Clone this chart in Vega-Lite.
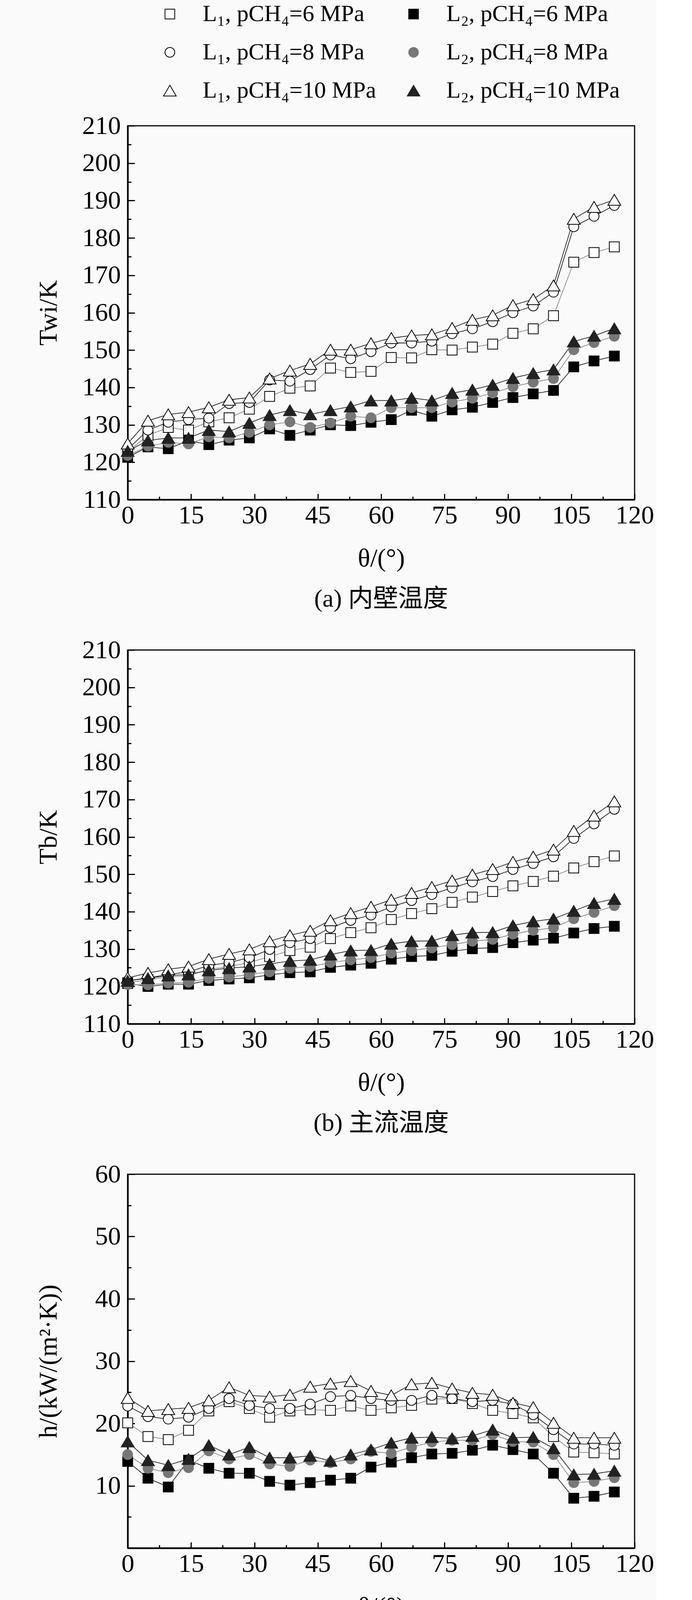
{
  "$schema": "https://vega.github.io/schema/vega-lite/v6.json",
  "background": "#fafafa",
  "padding": {"left": 89, "top": 6, "right": 5, "bottom": 5},
  "spacing": 385,
  "bounds": "flush",
  "config": {
    "font": "Liberation Serif",
    "view": {"stroke": "black", "strokeWidth": 3},
    "axis": {"domainColor": "black", "domainWidth": 4, "tickColor": "black", "tickWidth": 3, "labelFont": "Liberation Serif", "labelFontSize": 66, "labelColor": "black", "titleFont": "Liberation Serif", "titleFontSize": 66, "titleFontWeight": "normal", "titleColor": "black", "grid": false, "labelFlush": false, "labelOverlap": false},
    "axisX": {"tickSize": -15, "labelPadding": 23, "titleY": 150, "titleBaseline": "middle"},
    "axisY": {"tickSize": -18, "labelPadding": 36, "titleX": -203, "titleBaseline": "middle"},
    "legend": {"orient": "none", "legendX": 78, "legendY": -316, "columns": 2, "columnPadding": 65, "rowPadding": 38, "symbolSize": 620, "symbolStrokeWidth": 2, "symbolStrokeColor": "black", "symbolOpacity": 1, "labelFont": "Liberation Serif", "labelFontSize": 60, "labelLimit": 900, "labelOffset": 54, "labelColor": "black"},
    "title": {"font": "Liberation Serif, Noto Sans CJK SC", "fontSize": 64, "fontWeight": "normal", "color": "black", "orient": "bottom", "frame": "group", "offset": 40, "baseline": "middle", "anchor": "middle"}
  },
  "datasets": {
    "a": [
      {"t":0,"s":"L1_6","v":122.8},{"t":4.8,"s":"L1_6","v":127.2},{"t":9.6,"s":"L1_6","v":129.3},{"t":14.4,"s":"L1_6","v":128.6},{"t":19.2,"s":"L1_6","v":130.8},{"t":24,"s":"L1_6","v":131.9},{"t":28.8,"s":"L1_6","v":134.2},{"t":33.6,"s":"L1_6","v":137.6},{"t":38.4,"s":"L1_6","v":139.8},{"t":43.2,"s":"L1_6","v":140.4},{"t":48,"s":"L1_6","v":145.2},{"t":52.8,"s":"L1_6","v":144.0},{"t":57.6,"s":"L1_6","v":144.3},{"t":62.4,"s":"L1_6","v":148.0},{"t":67.2,"s":"L1_6","v":147.9},{"t":72,"s":"L1_6","v":150.1},{"t":76.8,"s":"L1_6","v":150.0},{"t":81.6,"s":"L1_6","v":150.8},{"t":86.4,"s":"L1_6","v":151.6},{"t":91.2,"s":"L1_6","v":154.5},{"t":96,"s":"L1_6","v":155.7},{"t":100.8,"s":"L1_6","v":159.2},{"t":105.6,"s":"L1_6","v":173.5},{"t":110.4,"s":"L1_6","v":176.1},{"t":115.2,"s":"L1_6","v":177.6},
      {"t":0,"s":"L1_8","v":123.5},{"t":4.8,"s":"L1_8","v":128.6},{"t":9.6,"s":"L1_8","v":130.7},{"t":14.4,"s":"L1_8","v":131.4},{"t":19.2,"s":"L1_8","v":131.8},{"t":24,"s":"L1_8","v":135.7},{"t":28.8,"s":"L1_8","v":136.0},{"t":33.6,"s":"L1_8","v":142.0},{"t":38.4,"s":"L1_8","v":141.7},{"t":43.2,"s":"L1_8","v":144.8},{"t":48,"s":"L1_8","v":148.7},{"t":52.8,"s":"L1_8","v":147.7},{"t":57.6,"s":"L1_8","v":149.6},{"t":62.4,"s":"L1_8","v":151.9},{"t":67.2,"s":"L1_8","v":151.9},{"t":72,"s":"L1_8","v":152.4},{"t":76.8,"s":"L1_8","v":154.4},{"t":81.6,"s":"L1_8","v":155.7},{"t":86.4,"s":"L1_8","v":157.6},{"t":91.2,"s":"L1_8","v":160.0},{"t":96,"s":"L1_8","v":161.8},{"t":100.8,"s":"L1_8","v":165.5},{"t":105.6,"s":"L1_8","v":183.0},{"t":110.4,"s":"L1_8","v":185.8},{"t":115.2,"s":"L1_8","v":188.7},
      {"t":0,"s":"L1_10","v":125.0},{"t":4.8,"s":"L1_10","v":131.1},{"t":9.6,"s":"L1_10","v":132.8},{"t":14.4,"s":"L1_10","v":133.4},{"t":19.2,"s":"L1_10","v":134.7},{"t":24,"s":"L1_10","v":136.7},{"t":28.8,"s":"L1_10","v":137.3},{"t":33.6,"s":"L1_10","v":142.4},{"t":38.4,"s":"L1_10","v":144.5},{"t":43.2,"s":"L1_10","v":146.3},{"t":48,"s":"L1_10","v":150.1},{"t":52.8,"s":"L1_10","v":150.1},{"t":57.6,"s":"L1_10","v":151.8},{"t":62.4,"s":"L1_10","v":153.2},{"t":67.2,"s":"L1_10","v":153.9},{"t":72,"s":"L1_10","v":154.2},{"t":76.8,"s":"L1_10","v":155.9},{"t":81.6,"s":"L1_10","v":158.1},{"t":86.4,"s":"L1_10","v":159.3},{"t":91.2,"s":"L1_10","v":162.0},{"t":96,"s":"L1_10","v":163.6},{"t":100.8,"s":"L1_10","v":167.3},{"t":105.6,"s":"L1_10","v":185.1},{"t":110.4,"s":"L1_10","v":188.3},{"t":115.2,"s":"L1_10","v":190.2},
      {"t":0,"s":"L2_6","v":121.3},{"t":4.8,"s":"L2_6","v":124.1},{"t":9.6,"s":"L2_6","v":123.6},{"t":14.4,"s":"L2_6","v":125.8},{"t":19.2,"s":"L2_6","v":124.7},{"t":24,"s":"L2_6","v":125.9},{"t":28.8,"s":"L2_6","v":126.5},{"t":33.6,"s":"L2_6","v":128.9},{"t":38.4,"s":"L2_6","v":127.2},{"t":43.2,"s":"L2_6","v":128.6},{"t":48,"s":"L2_6","v":130.0},{"t":52.8,"s":"L2_6","v":129.8},{"t":57.6,"s":"L2_6","v":130.7},{"t":62.4,"s":"L2_6","v":131.4},{"t":67.2,"s":"L2_6","v":133.9},{"t":72,"s":"L2_6","v":132.3},{"t":76.8,"s":"L2_6","v":134.0},{"t":81.6,"s":"L2_6","v":134.7},{"t":86.4,"s":"L2_6","v":136.0},{"t":91.2,"s":"L2_6","v":137.3},{"t":96,"s":"L2_6","v":138.3},{"t":100.8,"s":"L2_6","v":139.2},{"t":105.6,"s":"L2_6","v":145.5},{"t":110.4,"s":"L2_6","v":147.1},{"t":115.2,"s":"L2_6","v":148.4},
      {"t":0,"s":"L2_8","v":121.8},{"t":4.8,"s":"L2_8","v":124.3},{"t":9.6,"s":"L2_8","v":125.3},{"t":14.4,"s":"L2_8","v":124.9},{"t":19.2,"s":"L2_8","v":126.8},{"t":24,"s":"L2_8","v":126.5},{"t":28.8,"s":"L2_8","v":128.0},{"t":33.6,"s":"L2_8","v":130.0},{"t":38.4,"s":"L2_8","v":130.8},{"t":43.2,"s":"L2_8","v":129.3},{"t":48,"s":"L2_8","v":130.5},{"t":52.8,"s":"L2_8","v":132.3},{"t":57.6,"s":"L2_8","v":131.9},{"t":62.4,"s":"L2_8","v":134.6},{"t":67.2,"s":"L2_8","v":134.6},{"t":72,"s":"L2_8","v":134.6},{"t":76.8,"s":"L2_8","v":136.1},{"t":81.6,"s":"L2_8","v":137.1},{"t":86.4,"s":"L2_8","v":138.5},{"t":91.2,"s":"L2_8","v":140.2},{"t":96,"s":"L2_8","v":141.4},{"t":100.8,"s":"L2_8","v":142.4},{"t":105.6,"s":"L2_8","v":150.1},{"t":110.4,"s":"L2_8","v":152.0},{"t":115.2,"s":"L2_8","v":153.7},
      {"t":0,"s":"L2_10","v":123.0},{"t":4.8,"s":"L2_10","v":125.8},{"t":9.6,"s":"L2_10","v":126.5},{"t":14.4,"s":"L2_10","v":126.5},{"t":19.2,"s":"L2_10","v":128.6},{"t":24,"s":"L2_10","v":128.2},{"t":28.8,"s":"L2_10","v":130.5},{"t":33.6,"s":"L2_10","v":132.6},{"t":38.4,"s":"L2_10","v":133.9},{"t":43.2,"s":"L2_10","v":132.8},{"t":48,"s":"L2_10","v":133.9},{"t":52.8,"s":"L2_10","v":134.9},{"t":57.6,"s":"L2_10","v":136.5},{"t":62.4,"s":"L2_10","v":136.5},{"t":67.2,"s":"L2_10","v":137.2},{"t":72,"s":"L2_10","v":136.5},{"t":76.8,"s":"L2_10","v":138.5},{"t":81.6,"s":"L2_10","v":139.4},{"t":86.4,"s":"L2_10","v":140.7},{"t":91.2,"s":"L2_10","v":142.5},{"t":96,"s":"L2_10","v":143.8},{"t":100.8,"s":"L2_10","v":144.8},{"t":105.6,"s":"L2_10","v":152.3},{"t":110.4,"s":"L2_10","v":153.8},{"t":115.2,"s":"L2_10","v":155.8}
    ],
    "b": [
      {"t":0,"s":"L1_6","v":121.0},{"t":4.8,"s":"L1_6","v":121.8},{"t":9.6,"s":"L1_6","v":122.5},{"t":14.4,"s":"L1_6","v":122.9},{"t":19.2,"s":"L1_6","v":124.6},{"t":24,"s":"L1_6","v":125.3},{"t":28.8,"s":"L1_6","v":126.4},{"t":33.6,"s":"L1_6","v":128.0},{"t":38.4,"s":"L1_6","v":129.6},{"t":43.2,"s":"L1_6","v":130.5},{"t":48,"s":"L1_6","v":132.8},{"t":52.8,"s":"L1_6","v":134.4},{"t":57.6,"s":"L1_6","v":135.7},{"t":62.4,"s":"L1_6","v":137.9},{"t":67.2,"s":"L1_6","v":139.5},{"t":72,"s":"L1_6","v":140.8},{"t":76.8,"s":"L1_6","v":142.5},{"t":81.6,"s":"L1_6","v":143.9},{"t":86.4,"s":"L1_6","v":145.4},{"t":91.2,"s":"L1_6","v":146.9},{"t":96,"s":"L1_6","v":148.1},{"t":100.8,"s":"L1_6","v":149.5},{"t":105.6,"s":"L1_6","v":151.7},{"t":110.4,"s":"L1_6","v":153.4},{"t":115.2,"s":"L1_6","v":154.9},
      {"t":0,"s":"L1_8","v":121.5},{"t":4.8,"s":"L1_8","v":122.3},{"t":9.6,"s":"L1_8","v":123.2},{"t":14.4,"s":"L1_8","v":123.9},{"t":19.2,"s":"L1_8","v":125.6},{"t":24,"s":"L1_8","v":126.4},{"t":28.8,"s":"L1_8","v":127.7},{"t":33.6,"s":"L1_8","v":129.9},{"t":38.4,"s":"L1_8","v":131.7},{"t":43.2,"s":"L1_8","v":132.8},{"t":48,"s":"L1_8","v":135.7},{"t":52.8,"s":"L1_8","v":137.7},{"t":57.6,"s":"L1_8","v":139.1},{"t":62.4,"s":"L1_8","v":141.3},{"t":67.2,"s":"L1_8","v":143.0},{"t":72,"s":"L1_8","v":144.6},{"t":76.8,"s":"L1_8","v":146.4},{"t":81.6,"s":"L1_8","v":148.0},{"t":86.4,"s":"L1_8","v":149.4},{"t":91.2,"s":"L1_8","v":151.3},{"t":96,"s":"L1_8","v":152.9},{"t":100.8,"s":"L1_8","v":154.7},{"t":105.6,"s":"L1_8","v":159.6},{"t":110.4,"s":"L1_8","v":163.5},{"t":115.2,"s":"L1_8","v":167.4},
      {"t":0,"s":"L1_10","v":122.3},{"t":4.8,"s":"L1_10","v":123.6},{"t":9.6,"s":"L1_10","v":124.6},{"t":14.4,"s":"L1_10","v":125.3},{"t":19.2,"s":"L1_10","v":127.3},{"t":24,"s":"L1_10","v":128.7},{"t":28.8,"s":"L1_10","v":129.9},{"t":33.6,"s":"L1_10","v":132.1},{"t":38.4,"s":"L1_10","v":133.7},{"t":43.2,"s":"L1_10","v":134.9},{"t":48,"s":"L1_10","v":137.7},{"t":52.8,"s":"L1_10","v":139.6},{"t":57.6,"s":"L1_10","v":141.3},{"t":62.4,"s":"L1_10","v":143.2},{"t":67.2,"s":"L1_10","v":145.0},{"t":72,"s":"L1_10","v":146.6},{"t":76.8,"s":"L1_10","v":148.3},{"t":81.6,"s":"L1_10","v":149.9},{"t":86.4,"s":"L1_10","v":151.4},{"t":91.2,"s":"L1_10","v":153.3},{"t":96,"s":"L1_10","v":154.7},{"t":100.8,"s":"L1_10","v":156.6},{"t":105.6,"s":"L1_10","v":161.6},{"t":110.4,"s":"L1_10","v":165.7},{"t":115.2,"s":"L1_10","v":169.5},
      {"t":0,"s":"L2_6","v":120.8},{"t":4.8,"s":"L2_6","v":120.0},{"t":9.6,"s":"L2_6","v":120.6},{"t":14.4,"s":"L2_6","v":120.6},{"t":19.2,"s":"L2_6","v":121.6},{"t":24,"s":"L2_6","v":122.0},{"t":28.8,"s":"L2_6","v":122.3},{"t":33.6,"s":"L2_6","v":123.1},{"t":38.4,"s":"L2_6","v":123.7},{"t":43.2,"s":"L2_6","v":123.9},{"t":48,"s":"L2_6","v":125.1},{"t":52.8,"s":"L2_6","v":125.7},{"t":57.6,"s":"L2_6","v":126.2},{"t":62.4,"s":"L2_6","v":127.3},{"t":67.2,"s":"L2_6","v":128.0},{"t":72,"s":"L2_6","v":128.3},{"t":76.8,"s":"L2_6","v":129.4},{"t":81.6,"s":"L2_6","v":130.1},{"t":86.4,"s":"L2_6","v":130.4},{"t":91.2,"s":"L2_6","v":131.7},{"t":96,"s":"L2_6","v":132.4},{"t":100.8,"s":"L2_6","v":132.9},{"t":105.6,"s":"L2_6","v":134.3},{"t":110.4,"s":"L2_6","v":135.5},{"t":115.2,"s":"L2_6","v":136.1},
      {"t":0,"s":"L2_8","v":120.5},{"t":4.8,"s":"L2_8","v":120.4},{"t":9.6,"s":"L2_8","v":120.9},{"t":14.4,"s":"L2_8","v":121.1},{"t":19.2,"s":"L2_8","v":122.2},{"t":24,"s":"L2_8","v":122.5},{"t":28.8,"s":"L2_8","v":123.2},{"t":33.6,"s":"L2_8","v":123.9},{"t":38.4,"s":"L2_8","v":124.9},{"t":43.2,"s":"L2_8","v":125.3},{"t":48,"s":"L2_8","v":126.4},{"t":52.8,"s":"L2_8","v":127.1},{"t":57.6,"s":"L2_8","v":127.7},{"t":62.4,"s":"L2_8","v":128.9},{"t":67.2,"s":"L2_8","v":129.6},{"t":72,"s":"L2_8","v":130.3},{"t":76.8,"s":"L2_8","v":131.2},{"t":81.6,"s":"L2_8","v":132.1},{"t":86.4,"s":"L2_8","v":132.6},{"t":91.2,"s":"L2_8","v":134.0},{"t":96,"s":"L2_8","v":135.0},{"t":100.8,"s":"L2_8","v":135.7},{"t":105.6,"s":"L2_8","v":138.1},{"t":110.4,"s":"L2_8","v":139.8},{"t":115.2,"s":"L2_8","v":141.6},
      {"t":0,"s":"L2_10","v":121.5},{"t":4.8,"s":"L2_10","v":122.2},{"t":9.6,"s":"L2_10","v":122.9},{"t":14.4,"s":"L2_10","v":123.2},{"t":19.2,"s":"L2_10","v":124.3},{"t":24,"s":"L2_10","v":124.9},{"t":28.8,"s":"L2_10","v":125.3},{"t":33.6,"s":"L2_10","v":126.0},{"t":38.4,"s":"L2_10","v":126.8},{"t":43.2,"s":"L2_10","v":127.1},{"t":48,"s":"L2_10","v":128.5},{"t":52.8,"s":"L2_10","v":129.6},{"t":57.6,"s":"L2_10","v":129.7},{"t":62.4,"s":"L2_10","v":131.4},{"t":67.2,"s":"L2_10","v":132.1},{"t":72,"s":"L2_10","v":132.2},{"t":76.8,"s":"L2_10","v":133.7},{"t":81.6,"s":"L2_10","v":134.4},{"t":86.4,"s":"L2_10","v":134.5},{"t":91.2,"s":"L2_10","v":136.3},{"t":96,"s":"L2_10","v":137.4},{"t":100.8,"s":"L2_10","v":138.1},{"t":105.6,"s":"L2_10","v":140.2},{"t":110.4,"s":"L2_10","v":142.3},{"t":115.2,"s":"L2_10","v":143.4}
    ],
    "c": [
      {"t":0,"s":"L1_6","v":20.1},{"t":4.8,"s":"L1_6","v":17.9},{"t":9.6,"s":"L1_6","v":17.4},{"t":14.4,"s":"L1_6","v":18.9},{"t":19.2,"s":"L1_6","v":22.0},{"t":24,"s":"L1_6","v":23.5},{"t":28.8,"s":"L1_6","v":22.4},{"t":33.6,"s":"L1_6","v":21.0},{"t":38.4,"s":"L1_6","v":22.0},{"t":43.2,"s":"L1_6","v":22.2},{"t":48,"s":"L1_6","v":22.1},{"t":52.8,"s":"L1_6","v":22.8},{"t":57.6,"s":"L1_6","v":22.1},{"t":62.4,"s":"L1_6","v":22.5},{"t":67.2,"s":"L1_6","v":22.9},{"t":72,"s":"L1_6","v":23.9},{"t":76.8,"s":"L1_6","v":24.0},{"t":81.6,"s":"L1_6","v":23.2},{"t":86.4,"s":"L1_6","v":22.1},{"t":91.2,"s":"L1_6","v":21.6},{"t":96,"s":"L1_6","v":20.9},{"t":100.8,"s":"L1_6","v":17.9},{"t":105.6,"s":"L1_6","v":15.4},{"t":110.4,"s":"L1_6","v":15.3},{"t":115.2,"s":"L1_6","v":15.1},
      {"t":0,"s":"L1_8","v":22.8},{"t":4.8,"s":"L1_8","v":21.1},{"t":9.6,"s":"L1_8","v":20.7},{"t":14.4,"s":"L1_8","v":21.0},{"t":19.2,"s":"L1_8","v":22.4},{"t":24,"s":"L1_8","v":24.0},{"t":28.8,"s":"L1_8","v":22.9},{"t":33.6,"s":"L1_8","v":22.4},{"t":38.4,"s":"L1_8","v":22.4},{"t":43.2,"s":"L1_8","v":23.1},{"t":48,"s":"L1_8","v":24.3},{"t":52.8,"s":"L1_8","v":24.5},{"t":57.6,"s":"L1_8","v":24.0},{"t":62.4,"s":"L1_8","v":23.7},{"t":67.2,"s":"L1_8","v":23.7},{"t":72,"s":"L1_8","v":24.5},{"t":76.8,"s":"L1_8","v":24.0},{"t":81.6,"s":"L1_8","v":23.5},{"t":86.4,"s":"L1_8","v":23.7},{"t":91.2,"s":"L1_8","v":23.1},{"t":96,"s":"L1_8","v":21.4},{"t":100.8,"s":"L1_8","v":19.0},{"t":105.6,"s":"L1_8","v":16.7},{"t":110.4,"s":"L1_8","v":16.7},{"t":115.2,"s":"L1_8","v":16.5},
      {"t":0,"s":"L1_10","v":24.1},{"t":4.8,"s":"L1_10","v":22.0},{"t":9.6,"s":"L1_10","v":22.3},{"t":14.4,"s":"L1_10","v":22.5},{"t":19.2,"s":"L1_10","v":23.7},{"t":24,"s":"L1_10","v":25.8},{"t":28.8,"s":"L1_10","v":24.5},{"t":33.6,"s":"L1_10","v":24.3},{"t":38.4,"s":"L1_10","v":24.6},{"t":43.2,"s":"L1_10","v":25.9},{"t":48,"s":"L1_10","v":26.4},{"t":52.8,"s":"L1_10","v":26.8},{"t":57.6,"s":"L1_10","v":25.2},{"t":62.4,"s":"L1_10","v":24.5},{"t":67.2,"s":"L1_10","v":26.3},{"t":72,"s":"L1_10","v":26.5},{"t":76.8,"s":"L1_10","v":25.6},{"t":81.6,"s":"L1_10","v":24.9},{"t":86.4,"s":"L1_10","v":24.6},{"t":91.2,"s":"L1_10","v":23.3},{"t":96,"s":"L1_10","v":22.6},{"t":100.8,"s":"L1_10","v":20.1},{"t":105.6,"s":"L1_10","v":17.7},{"t":110.4,"s":"L1_10","v":17.7},{"t":115.2,"s":"L1_10","v":17.7},
      {"t":0,"s":"L2_6","v":13.9},{"t":4.8,"s":"L2_6","v":11.2},{"t":9.6,"s":"L2_6","v":9.8},{"t":14.4,"s":"L2_6","v":14.1},{"t":19.2,"s":"L2_6","v":12.8},{"t":24,"s":"L2_6","v":12.0},{"t":28.8,"s":"L2_6","v":12.0},{"t":33.6,"s":"L2_6","v":10.7},{"t":38.4,"s":"L2_6","v":10.1},{"t":43.2,"s":"L2_6","v":10.5},{"t":48,"s":"L2_6","v":10.9},{"t":52.8,"s":"L2_6","v":11.2},{"t":57.6,"s":"L2_6","v":13.0},{"t":62.4,"s":"L2_6","v":13.8},{"t":67.2,"s":"L2_6","v":14.5},{"t":72,"s":"L2_6","v":15.1},{"t":76.8,"s":"L2_6","v":15.2},{"t":81.6,"s":"L2_6","v":15.7},{"t":86.4,"s":"L2_6","v":16.5},{"t":91.2,"s":"L2_6","v":15.8},{"t":96,"s":"L2_6","v":15.1},{"t":100.8,"s":"L2_6","v":12.0},{"t":105.6,"s":"L2_6","v":8.0},{"t":110.4,"s":"L2_6","v":8.3},{"t":115.2,"s":"L2_6","v":9.0},
      {"t":0,"s":"L2_8","v":15.0},{"t":4.8,"s":"L2_8","v":12.8},{"t":9.6,"s":"L2_8","v":12.1},{"t":14.4,"s":"L2_8","v":12.9},{"t":19.2,"s":"L2_8","v":15.6},{"t":24,"s":"L2_8","v":14.3},{"t":28.8,"s":"L2_8","v":15.0},{"t":33.6,"s":"L2_8","v":13.5},{"t":38.4,"s":"L2_8","v":13.1},{"t":43.2,"s":"L2_8","v":14.1},{"t":48,"s":"L2_8","v":13.7},{"t":52.8,"s":"L2_8","v":14.3},{"t":57.6,"s":"L2_8","v":15.5},{"t":62.4,"s":"L2_8","v":15.2},{"t":67.2,"s":"L2_8","v":16.2},{"t":72,"s":"L2_8","v":17.0},{"t":76.8,"s":"L2_8","v":17.3},{"t":81.6,"s":"L2_8","v":17.3},{"t":86.4,"s":"L2_8","v":18.2},{"t":91.2,"s":"L2_8","v":17.1},{"t":96,"s":"L2_8","v":17.0},{"t":100.8,"s":"L2_8","v":15.0},{"t":105.6,"s":"L2_8","v":10.5},{"t":110.4,"s":"L2_8","v":10.7},{"t":115.2,"s":"L2_8","v":11.3},
      {"t":0,"s":"L2_10","v":17.1},{"t":4.8,"s":"L2_10","v":14.1},{"t":9.6,"s":"L2_10","v":13.3},{"t":14.4,"s":"L2_10","v":14.3},{"t":19.2,"s":"L2_10","v":16.5},{"t":24,"s":"L2_10","v":15.0},{"t":28.8,"s":"L2_10","v":16.2},{"t":33.6,"s":"L2_10","v":14.5},{"t":38.4,"s":"L2_10","v":14.5},{"t":43.2,"s":"L2_10","v":14.8},{"t":48,"s":"L2_10","v":14.0},{"t":52.8,"s":"L2_10","v":15.0},{"t":57.6,"s":"L2_10","v":15.8},{"t":62.4,"s":"L2_10","v":16.9},{"t":67.2,"s":"L2_10","v":17.7},{"t":72,"s":"L2_10","v":17.8},{"t":76.8,"s":"L2_10","v":17.6},{"t":81.6,"s":"L2_10","v":18.0},{"t":86.4,"s":"L2_10","v":19.0},{"t":91.2,"s":"L2_10","v":17.7},{"t":96,"s":"L2_10","v":17.8},{"t":100.8,"s":"L2_10","v":16.0},{"t":105.6,"s":"L2_10","v":11.8},{"t":110.4,"s":"L2_10","v":11.9},{"t":115.2,"s":"L2_10","v":12.4}
    ]
  },
  "vconcat": [
    {
      "width": 1298, "height": 957,
      "title": {"text": "(a) 内壁温度"},
      "data": {"name": "a"},
      "layer": [
        {
          "mark": {"type": "line", "strokeWidth": 1.8},
          "encoding": {
            "x": {"field": "t", "type": "quantitative", "scale": {"domain": [0, 120]}, "axis": {"values": [0,15,30,45,60,75,90,105,120], "title": "θ/(°)"}},
            "y": {"field": "v", "type": "quantitative", "scale": {"domain": [110, 210]}, "axis": {"values": [110,120,130,140,150,160,170,180,190,200,210], "title": "Twi/K"}},
            "detail": {"field": "s", "type": "nominal"},
            "color": {"condition": {"test": "datum.s == 'L1_6' || datum.s == 'L2_8'", "value": "#888"}, "value": "#222"}
          }
        },
        {
          "mark": {"type": "point", "size": 650, "strokeWidth": 2, "opacity": 1},
          "encoding": {
            "x": {"field": "t", "type": "quantitative", "axis": {"orient": "bottom", "values": [7.5,22.5,37.5,52.5,67.5,82.5,97.5,112.5], "tickSize": -8, "labels": false, "domain": false, "title": null}},
            "y": {"field": "v", "type": "quantitative", "axis": {"orient": "left", "values": [115,125,135,145,155,165,175,185,195,205], "tickSize": -9, "labels": false, "domain": false, "title": null}},
            "fill": {"field": "s", "type": "nominal", "scale": {"domain": ["L1_6","L1_8","L1_10","L2_6","L2_8","L2_10"], "range": ["#fff","#fff","#fff","#000","#777","#222"]},
              "legend": {
                "title": null,
                "labelExpr": "datum.value == 'L1_6' ? 'L₁, pCH₄=6 MPa' : datum.value == 'L2_6' ? 'L₂, pCH₄=6 MPa' : datum.value == 'L1_8' ? 'L₁, pCH₄=8 MPa' : datum.value == 'L2_8' ? 'L₂, pCH₄=8 MPa' : datum.value == 'L1_10' ? 'L₁, pCH₄=10 MPa' : 'L₂, pCH₄=10 MPa'"
              }
            },
            "stroke": {"field": "s", "type": "nominal", "scale": {"domain": ["L1_6","L1_8","L1_10","L2_6","L2_8","L2_10"], "range": ["#000","#000","#000","#000","#777","#222"]},
              "legend": {
                "title": null,
                "labelExpr": "datum.value == 'L1_6' ? 'L₁, pCH₄=6 MPa' : datum.value == 'L2_6' ? 'L₂, pCH₄=6 MPa' : datum.value == 'L1_8' ? 'L₁, pCH₄=8 MPa' : datum.value == 'L2_8' ? 'L₂, pCH₄=8 MPa' : datum.value == 'L1_10' ? 'L₁, pCH₄=10 MPa' : 'L₂, pCH₄=10 MPa'"
              }
            },
            "shape": {"field": "s", "type": "nominal",
              "scale": {"domain": ["L1_6","L1_8","L1_10","L2_6","L2_8","L2_10"], "range": ["square","circle","M0,-1.1L1.3,1.1H-1.3Z","square","circle","M0,-1.1L1.3,1.1H-1.3Z"]},
              "legend": {
                "title": null,
                "labelExpr": "datum.value == 'L1_6' ? 'L₁, pCH₄=6 MPa' : datum.value == 'L2_6' ? 'L₂, pCH₄=6 MPa' : datum.value == 'L1_8' ? 'L₁, pCH₄=8 MPa' : datum.value == 'L2_8' ? 'L₂, pCH₄=8 MPa' : datum.value == 'L1_10' ? 'L₁, pCH₄=10 MPa' : 'L₂, pCH₄=10 MPa'"
              }
            }
          }
        }
      ],
      "resolve": {"axis": {"x": "independent", "y": "independent"}}
    },
    {
      "width": 1298, "height": 957,
      "title": {"text": "(b) 主流温度"},
      "data": {"name": "b"},
      "layer": [
        {
          "mark": {"type": "line", "strokeWidth": 1.8},
          "encoding": {
            "x": {"field": "t", "type": "quantitative", "scale": {"domain": [0, 120]}, "axis": {"values": [0,15,30,45,60,75,90,105,120], "title": "θ/(°)"}},
            "y": {"field": "v", "type": "quantitative", "scale": {"domain": [110, 210]}, "axis": {"values": [110,120,130,140,150,160,170,180,190,200,210], "title": "Tb/K"}},
            "detail": {"field": "s", "type": "nominal"},
            "color": {"condition": {"test": "datum.s == 'L1_6' || datum.s == 'L2_8'", "value": "#888"}, "value": "#222"}
          }
        },
        {
          "mark": {"type": "point", "size": 650, "strokeWidth": 2, "opacity": 1},
          "encoding": {
            "x": {"field": "t", "type": "quantitative", "axis": {"orient": "bottom", "values": [7.5,22.5,37.5,52.5,67.5,82.5,97.5,112.5], "tickSize": -8, "labels": false, "domain": false, "title": null}},
            "y": {"field": "v", "type": "quantitative", "axis": {"orient": "left", "values": [115,125,135,145,155,165,175,185,195,205], "tickSize": -9, "labels": false, "domain": false, "title": null}},
            "fill": {"field": "s", "type": "nominal"},
            "stroke": {"field": "s", "type": "nominal"},
            "shape": {"field": "s", "type": "nominal"}
          }
        }
      ],
      "resolve": {"axis": {"x": "independent", "y": "independent"}}
    },
    {
      "width": 1298, "height": 957,
      "title": {"text": "(c) 传热系数"},
      "data": {"name": "c"},
      "layer": [
        {
          "mark": {"type": "line", "strokeWidth": 1.8},
          "encoding": {
            "x": {"field": "t", "type": "quantitative", "scale": {"domain": [0, 120]}, "axis": {"values": [0,15,30,45,60,75,90,105,120], "title": "θ/(°)"}},
            "y": {"field": "v", "type": "quantitative", "scale": {"domain": [0, 60]}, "axis": {"values": [10,20,30,40,50,60], "title": "h/(kW/(m²·K))"}},
            "detail": {"field": "s", "type": "nominal"},
            "color": {"condition": {"test": "datum.s == 'L1_6' || datum.s == 'L2_8'", "value": "#888"}, "value": "#222"}
          }
        },
        {
          "mark": {"type": "point", "size": 650, "strokeWidth": 2, "opacity": 1},
          "encoding": {
            "x": {"field": "t", "type": "quantitative", "axis": {"orient": "bottom", "values": [7.5,22.5,37.5,52.5,67.5,82.5,97.5,112.5], "tickSize": -8, "labels": false, "domain": false, "title": null}},
            "y": {"field": "v", "type": "quantitative", "axis": {"orient": "left", "values": [5,15,25,35,45,55], "tickSize": -9, "labels": false, "domain": false, "title": null}},
            "fill": {"field": "s", "type": "nominal"},
            "stroke": {"field": "s", "type": "nominal"},
            "shape": {"field": "s", "type": "nominal"}
          }
        }
      ],
      "resolve": {"axis": {"x": "independent", "y": "independent"}}
    }
  ]
}
